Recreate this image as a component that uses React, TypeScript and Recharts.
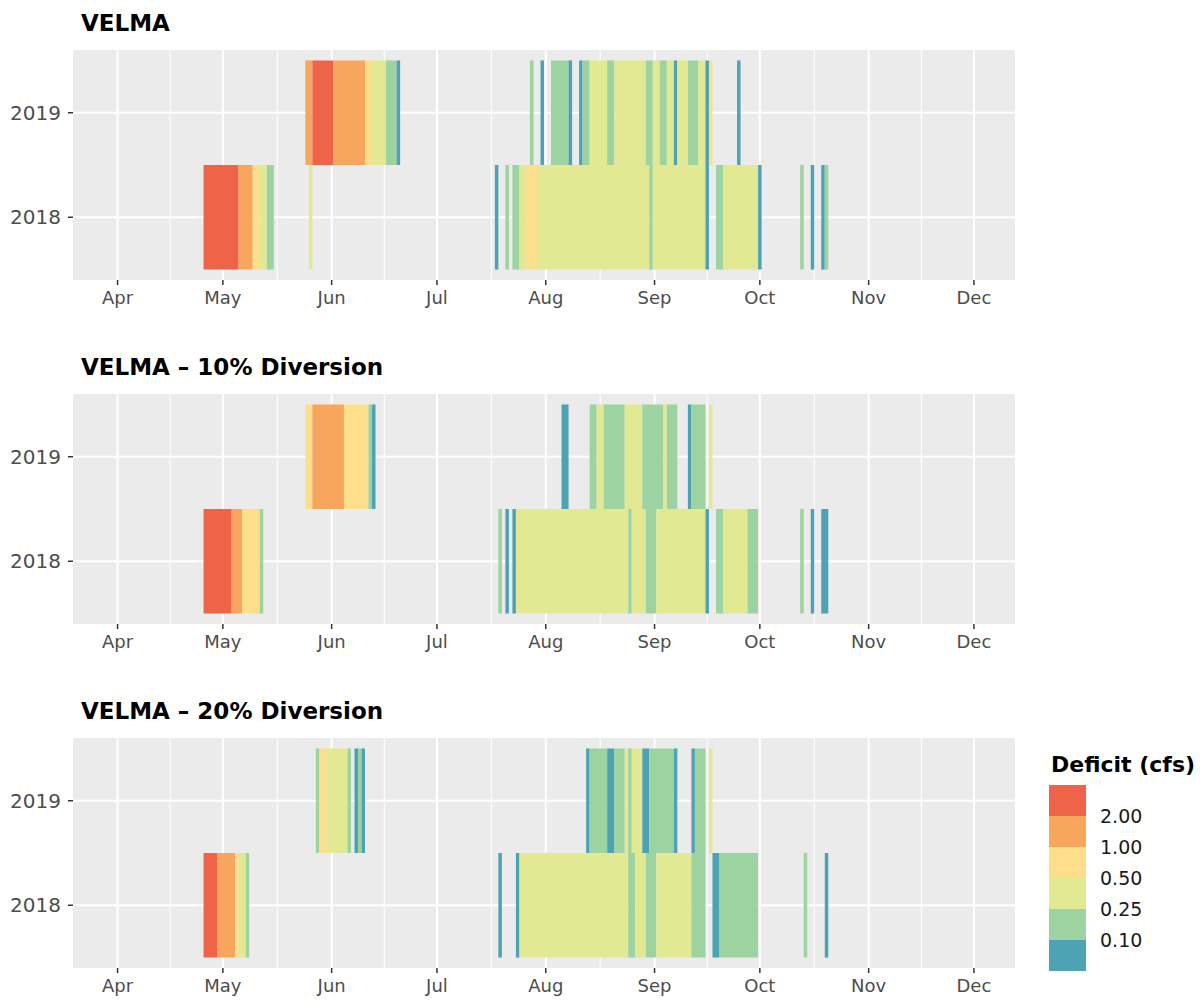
import React from 'react';
import {
  ComposedChart,
  XAxis,
  YAxis,
  CartesianGrid,
  ReferenceArea,
  Scatter,
} from 'recharts';

// ---------- axis / scale definitions ----------
const MONTHS = ['Apr', 'May', 'Jun', 'Jul', 'Aug', 'Sep', 'Oct', 'Nov', 'Dec'];
const MONTH_LENGTHS = [30, 31, 30, 31, 31, 30, 31, 30, 31];
const YEARS = ['2018', '2019'];

// deficit bins (cfs) and colours, low -> high
const BREAKS = [0.1, 0.25, 0.5, 1, 2];
const BREAK_LABELS = ['0.10', '0.25', '0.50', '1.00', '2.00'];
const BIN_COLORS = ['#4DA3B4', '#9CD3A1', '#E3E893', '#FDDF8B', '#F8A55E', '#EF6448'];

// ---------- data: runs of days [start, end, deficit cfs] ----------
type Seg = [string, string, number];

const VELMA_2018: Seg[] = [
  ['Apr 26', 'May 5', 2.6],
  ['May 6', 'May 9', 1.5],
  ['May 10', 'May 11', 0.7],
  ['May 12', 'May 13', 0.4],
  ['May 14', 'May 15', 0.18],
  ['May 26', 'May 26', 0.35],
  ['Jul 18', 'Jul 18', 0.06],
  ['Jul 21', 'Jul 21', 0.18],
  ['Jul 23', 'Jul 24', 0.18],
  ['Jul 25', 'Jul 26', 0.35],
  ['Jul 27', 'Jul 29', 0.6],
  ['Jul 30', 'Aug 30', 0.35],
  ['Aug 31', 'Aug 31', 0.2],
  ['Sep 1', 'Sep 15', 0.35],
  ['Sep 16', 'Sep 16', 0.07],
  ['Sep 19', 'Sep 20', 0.18],
  ['Sep 21', 'Sep 30', 0.35],
  ['Oct 1', 'Oct 1', 0.07],
  ['Oct 13', 'Oct 13', 0.2],
  ['Oct 16', 'Oct 16', 0.07],
  ['Oct 19', 'Oct 19', 0.08],
  ['Oct 20', 'Oct 20', 0.15],
];

const VELMA_2019: Seg[] = [
  ['May 25', 'May 26', 1.4],
  ['May 27', 'Jun 1', 2.5],
  ['Jun 2', 'Jun 10', 1.5],
  ['Jun 11', 'Jun 12', 0.7],
  ['Jun 13', 'Jun 16', 0.4],
  ['Jun 17', 'Jun 19', 0.18],
  ['Jun 20', 'Jun 20', 0.07],
  ['Jul 28', 'Jul 28', 0.18],
  ['Jul 31', 'Jul 31', 0.07],
  ['Aug 3', 'Aug 7', 0.18],
  ['Aug 8', 'Aug 8', 0.07],
  ['Aug 11', 'Aug 11', 0.07],
  ['Aug 12', 'Aug 13', 0.18],
  ['Aug 14', 'Aug 18', 0.35],
  ['Aug 19', 'Aug 20', 0.18],
  ['Aug 21', 'Aug 29', 0.35],
  ['Aug 30', 'Aug 31', 0.2],
  ['Sep 1', 'Sep 2', 0.3],
  ['Sep 3', 'Sep 4', 0.2],
  ['Sep 5', 'Sep 6', 0.3],
  ['Sep 7', 'Sep 7', 0.07],
  ['Sep 8', 'Sep 10', 0.3],
  ['Sep 11', 'Sep 13', 0.18],
  ['Sep 14', 'Sep 15', 0.3],
  ['Sep 16', 'Sep 16', 0.07],
  ['Sep 17', 'Sep 17', 0.6],
  ['Sep 25', 'Sep 25', 0.06],
];

const DIV10_2018: Seg[] = [
  ['Apr 26', 'May 3', 2.4],
  ['May 4', 'May 6', 1.4],
  ['May 7', 'May 11', 0.7],
  ['May 12', 'May 12', 0.18],
  ['Jul 19', 'Jul 19', 0.15],
  ['Jul 21', 'Jul 21', 0.07],
  ['Jul 23', 'Jul 23', 0.07],
  ['Jul 24', 'Aug 24', 0.35],
  ['Aug 25', 'Aug 25', 0.2],
  ['Aug 26', 'Aug 29', 0.3],
  ['Aug 30', 'Sep 1', 0.2],
  ['Sep 2', 'Sep 15', 0.3],
  ['Sep 16', 'Sep 16', 0.07],
  ['Sep 19', 'Sep 20', 0.18],
  ['Sep 21', 'Sep 27', 0.3],
  ['Sep 28', 'Sep 30', 0.2],
  ['Oct 13', 'Oct 13', 0.2],
  ['Oct 16', 'Oct 16', 0.07],
  ['Oct 19', 'Oct 20', 0.07],
];

const DIV10_2019: Seg[] = [
  ['May 25', 'May 26', 0.7],
  ['May 27', 'Jun 4', 1.4],
  ['Jun 5', 'Jun 11', 0.7],
  ['Jun 12', 'Jun 12', 0.18],
  ['Jun 13', 'Jun 13', 0.07],
  ['Aug 6', 'Aug 7', 0.07],
  ['Aug 14', 'Aug 15', 0.2],
  ['Aug 16', 'Aug 17', 0.3],
  ['Aug 18', 'Aug 23', 0.18],
  ['Aug 24', 'Aug 28', 0.3],
  ['Aug 29', 'Sep 3', 0.18],
  ['Sep 4', 'Sep 4', 0.3],
  ['Sep 5', 'Sep 7', 0.18],
  ['Sep 11', 'Sep 11', 0.08],
  ['Sep 12', 'Sep 15', 0.18],
  ['Sep 17', 'Sep 17', 0.3],
];

const DIV20_2018: Seg[] = [
  ['Apr 26', 'Apr 29', 2.3],
  ['Apr 30', 'May 4', 1.4],
  ['May 5', 'May 5', 0.6],
  ['May 6', 'May 7', 0.35],
  ['May 8', 'May 8', 0.18],
  ['Jul 19', 'Jul 19', 0.07],
  ['Jul 24', 'Jul 24', 0.07],
  ['Jul 25', 'Aug 24', 0.3],
  ['Aug 25', 'Aug 26', 0.18],
  ['Aug 27', 'Aug 29', 0.3],
  ['Aug 30', 'Sep 1', 0.18],
  ['Sep 2', 'Sep 11', 0.3],
  ['Sep 12', 'Sep 15', 0.18],
  ['Sep 18', 'Sep 19', 0.07],
  ['Sep 20', 'Sep 30', 0.18],
  ['Oct 14', 'Oct 14', 0.2],
  ['Oct 20', 'Oct 20', 0.07],
];

const DIV20_2019: Seg[] = [
  ['May 28', 'May 28', 0.2],
  ['May 29', 'May 30', 0.6],
  ['May 31', 'Jun 5', 0.35],
  ['Jun 6', 'Jun 6', 0.18],
  ['Jun 8', 'Jun 8', 0.07],
  ['Jun 9', 'Jun 9', 0.15],
  ['Jun 10', 'Jun 10', 0.07],
  ['Aug 13', 'Aug 13', 0.08],
  ['Aug 14', 'Aug 18', 0.18],
  ['Aug 19', 'Aug 20', 0.07],
  ['Aug 21', 'Aug 23', 0.18],
  ['Aug 24', 'Aug 24', 0.3],
  ['Aug 25', 'Aug 25', 0.18],
  ['Aug 26', 'Aug 28', 0.3],
  ['Aug 29', 'Aug 30', 0.07],
  ['Aug 31', 'Sep 6', 0.18],
  ['Sep 7', 'Sep 7', 0.07],
  ['Sep 12', 'Sep 12', 0.07],
  ['Sep 13', 'Sep 15', 0.18],
  ['Sep 17', 'Sep 17', 0.3],
];

const PANELS = [
  { title: 'VELMA', rows: { '2018': VELMA_2018, '2019': VELMA_2019 } },
  { title: 'VELMA \u2013 10% Diversion', rows: { '2018': DIV10_2018, '2019': DIV10_2019 } },
  { title: 'VELMA \u2013 20% Diversion', rows: { '2018': DIV20_2018, '2019': DIV20_2019 } },
];

// ---------- helpers ----------
const MONTH_OFFSETS: number[] = MONTH_LENGTHS.reduce<number[]>(
  (acc, len, i) => (i === 0 ? [0] : [...acc, acc[i - 1] + MONTH_LENGTHS[i - 1]]),
  []
);
const MONTH_TICKS = MONTHS.map((_, i) => MONTH_OFFSETS[i]);
const MINOR_TICKS = MONTH_TICKS.slice(0, -1).map((v, i) => (v + MONTH_TICKS[i + 1]) / 2);

function dayIndex(s: string): number {
  const [m, d] = s.split(' ');
  return MONTH_OFFSETS[MONTHS.indexOf(m)] + parseInt(d, 10) - 1;
}
function binColor(v: number): string {
  let i = 0;
  while (i < BREAKS.length && v >= BREAKS[i]) i++;
  return BIN_COLORS[i];
}
function monthLabel(v: number): string {
  const i = MONTH_TICKS.indexOf(v);
  return i >= 0 ? MONTHS[i] : '';
}

const FONT = '"DejaVu Sans", sans-serif';
const PANEL_TOPS = [50, 394, 738];
const CHART_W = 1030;
const PLOT_H = 230;
const CHART_H = 275;
const X_DOMAIN: [number, number] = [-12.7, 255.7];
const Y_DOMAIN: [number, number] = [0.4, 2.6];
// grid line half-thickness expressed in axis units (≈1px major, 0.5px minor)
const MAJOR_HALF_X = 0.29;
const MINOR_HALF_X = 0.15;
const MAJOR_HALF_Y = 0.0096;

function Panel({ idx }: { idx: number }) {
  const panel = PANELS[idx];
  const tiles = YEARS.flatMap((yr, yi) =>
    (panel.rows as Record<string, Seg[]>)[yr].map(([s, e, v]) => ({
      x1: dayIndex(s) - 0.5,
      x2: dayIndex(e) + 0.5,
      mid: (dayIndex(s) + dayIndex(e)) / 2,
      row: yi + 1,
      v,
    }))
  );
  return (
    <div style={{ position: 'absolute', left: 0, top: PANEL_TOPS[idx], width: CHART_W, height: CHART_H }}>
      <ComposedChart
        width={CHART_W}
        height={CHART_H}
        data={tiles}
        margin={{ top: 0, right: 15, bottom: 0, left: 0 }}
      >
        <CartesianGrid fill="#EBEBEB" fillOpacity={1} horizontal={false} vertical={false} />
        <XAxis
          type="number"
          dataKey="mid"
          domain={X_DOMAIN}
          allowDataOverflow
          ticks={MONTH_TICKS}
          tickFormatter={monthLabel}
          interval={0}
          axisLine={false}
          tickLine={{ stroke: '#333333', strokeWidth: 1.5 }}
          tickSize={5}
          tickMargin={6}
          height={CHART_H - PLOT_H}
          tick={{ fontFamily: FONT, fontSize: 18, fill: '#4D4D4D' }}
        />
        <YAxis
          type="number"
          dataKey="row"
          domain={Y_DOMAIN}
          allowDataOverflow
          ticks={[1, 2]}
          tickFormatter={(v: number) => YEARS[v - 1] ?? ''}
          interval={0}
          axisLine={false}
          tickLine={{ stroke: '#333333', strokeWidth: 1.5 }}
          tickSize={5}
          tickMargin={7}
          width={73}
          tick={{ fontFamily: FONT, fontSize: 20, fill: '#4D4D4D' }}
        />
        {/* minor vertical grid */}
        {MINOR_TICKS.map((m) => (
          <ReferenceArea
            key={'mi' + m}
            x1={m - MINOR_HALF_X}
            x2={m + MINOR_HALF_X}
            y1={Y_DOMAIN[0]}
            y2={Y_DOMAIN[1]}
            fill="#FFFFFF"
            fillOpacity={1}
            stroke="none"
          />
        ))}
        {/* major vertical grid */}
        {MONTH_TICKS.map((m) => (
          <ReferenceArea
            key={'ma' + m}
            x1={m - MAJOR_HALF_X}
            x2={m + MAJOR_HALF_X}
            y1={Y_DOMAIN[0]}
            y2={Y_DOMAIN[1]}
            fill="#FFFFFF"
            fillOpacity={1}
            stroke="none"
          />
        ))}
        {/* major horizontal grid */}
        {[1, 2].map((r) => (
          <ReferenceArea
            key={'h' + r}
            x1={X_DOMAIN[0]}
            x2={X_DOMAIN[1]}
            y1={r - MAJOR_HALF_Y}
            y2={r + MAJOR_HALF_Y}
            fill="#FFFFFF"
            fillOpacity={1}
            stroke="none"
          />
        ))}
        {tiles.map((t, i) => (
          <ReferenceArea
            key={'t' + i}
            x1={t.x1}
            x2={t.x2}
            y1={t.row - 0.5}
            y2={t.row + 0.5}
            fill={binColor(t.v)}
            fillOpacity={1}
            stroke="none"
          />
        ))}
        <Scatter dataKey="row" isAnimationActive={false} shape={() => <g />} />
      </ComposedChart>
    </div>
  );
}

export default function App() {
  const legendTop = 785;
  const bandH = 31;
  const bandsTopDown = [...BIN_COLORS].reverse();
  const labelsTopDown = [...BREAK_LABELS].reverse();
  return (
    <div
      style={{
        position: 'absolute',
        left: 0,
        top: 0,
        width: 1202,
        height: 1002,
        background: '#FFFFFF',
        overflow: 'hidden',
      }}
    >
      {PANELS.map((_, i) => (
        <Panel key={i} idx={i} />
      ))}
      <svg
        width={1202}
        height={1002}
        style={{ position: 'absolute', left: 0, top: 0, pointerEvents: 'none' }}
      >
        {PANELS.map((p, i) => (
          <text
            key={i}
            x={81}
            y={PANEL_TOPS[i] - 19.5}
            fontFamily={FONT}
            fontWeight="bold"
            fontSize={23}
            fill="#000000"
          >
            {p.title}
          </text>
        ))}
        <text x={1051} y={772} fontFamily={FONT} fontWeight="bold" fontSize={22} fill="#000000">
          Deficit (cfs)
        </text>
        {bandsTopDown.map((c, i) => (
          <rect key={c} x={1049} y={legendTop + i * bandH} width={37} height={bandH} fill={c} />
        ))}
        {labelsTopDown.map((l, i) => (
          <text
            key={l}
            x={1100}
            y={legendTop + (i + 1) * bandH}
            dy="0.36em"
            fontFamily={FONT}
            fontSize={19}
            fill="#1A1A1A"
          >
            {l}
          </text>
        ))}
      </svg>
    </div>
  );
}
